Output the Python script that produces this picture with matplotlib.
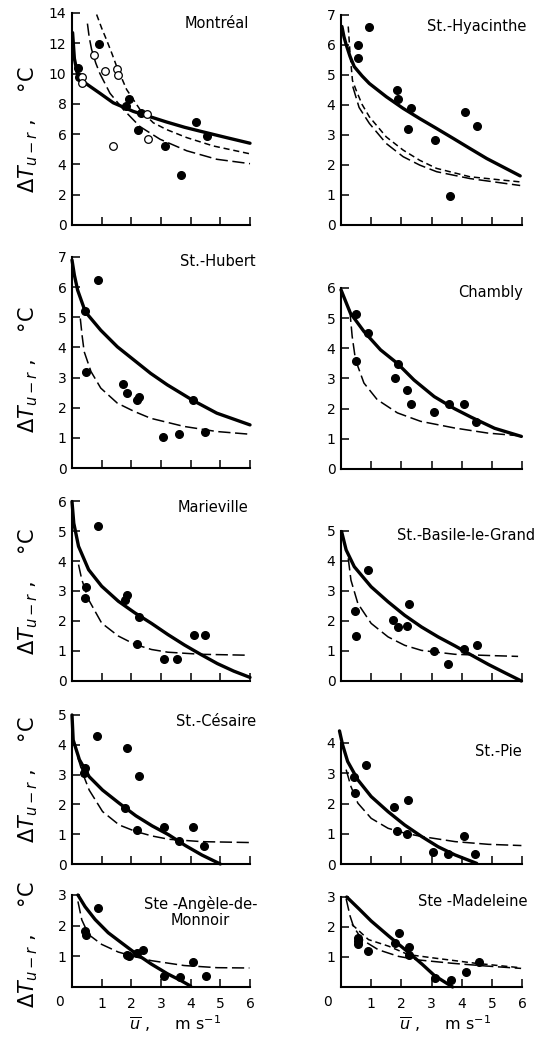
import matplotlib
matplotlib.use("Agg")
import matplotlib.pyplot as plt

W, H = 538, 1040

# ---- data: (u, dT) pairs ----
montreal_filled = [(0.21, 10.4), (0.24, 9.8), (0.91, 11.95), (1.82, 7.85), (1.93, 8.3), (2.21, 6.25),
                   (2.31, 7.4), (3.12, 5.25), (3.67, 3.3), (4.18, 6.8), (4.54, 5.85)]
montreal_open = [(0.34, 9.8), (0.35, 9.4), (0.75, 11.2), (1.12, 10.15), (1.39, 5.2), (1.52, 10.3),
                 (1.56, 9.9), (2.52, 7.3), (2.55, 5.65)]
montreal_solid = [(0.02, 12.7), (0.08, 11.0), (0.18, 10.0), (0.3, 9.6), (0.5, 9.3), (0.94, 8.7), (1.39, 8.07),
                  (2.07, 7.5), (2.63, 7.15), (3.19, 6.8), (3.8, 6.45), (4.31, 6.2), (5.21, 5.77), (6.0, 5.4)]
montreal_short = [(0.83, 13.9), (1.0, 13.0), (1.17, 12.2), (1.35, 11.3), (1.5, 10.5), (1.84, 8.95), (2.29, 7.63),
                  (2.74, 6.75), (3.19, 6.3), (3.87, 5.77), (4.76, 5.22), (6.0, 4.7)]
montreal_long = [(0.52, 13.3), (0.58, 12.4), (0.66, 11.6), (0.8, 10.7), (0.94, 10.0), (1.28, 8.7), (1.73, 7.63),
                 (2.29, 6.5), (2.97, 5.66), (3.87, 4.9), (4.88, 4.34), (6.0, 4.05)]

hyacinthe_filled = [(0.56, 6.0), (0.56, 5.56), (0.92, 6.6), (1.86, 4.48), (1.89, 4.18), (2.22, 3.18),
                    (2.32, 3.9), (3.1, 2.83), (3.61, 0.94), (4.11, 3.76), (4.5, 3.28)]
hyacinthe_solid = [(0.03, 6.6), (0.1, 6.25), (0.17, 6.0), (0.3, 5.6), (0.44, 5.26), (0.7, 4.95), (0.94, 4.7),
                   (1.5, 4.26), (2.06, 3.87), (2.61, 3.53), (3.17, 3.2), (3.72, 2.87), (4.28, 2.53),
                   (4.83, 2.2), (5.94, 1.62)]
hyacinthe_short = [(0.24, 6.6), (0.3, 5.7), (0.38, 4.8), (0.5, 4.48), (0.7, 4.0), (0.94, 3.59), (1.5, 2.92),
                   (2.06, 2.48), (2.61, 2.14), (3.17, 1.87), (4.28, 1.59), (5.94, 1.42)]
hyacinthe_long = [(0.39, 4.6), (0.6, 3.9), (0.94, 3.37), (1.5, 2.7), (2.06, 2.26), (2.61, 1.98),
                  (3.17, 1.76), (4.28, 1.53), (5.94, 1.3)]

hubert_filled = [(0.45, 5.2), (0.47, 3.2), (0.88, 6.25), (1.72, 2.78), (1.87, 2.5), (2.18, 2.26),
                 (2.26, 2.35), (3.07, 1.03), (3.62, 1.13), (4.08, 2.24), (4.48, 1.21)]
hubert_solid = [(0.0, 6.9), (0.08, 6.4), (0.19, 5.9), (0.45, 5.18), (0.97, 4.57), (1.53, 4.02), (2.09, 3.58),
                (2.65, 3.14), (3.21, 2.76), (4.08, 2.24), (4.88, 1.82), (6.0, 1.43)]
hubert_long = [(0.28, 4.96), (0.34, 4.4), (0.41, 3.86), (0.64, 3.2), (0.97, 2.65), (1.53, 2.15), (2.09, 1.88),
               (2.65, 1.65), (3.77, 1.38), (4.88, 1.21), (6.0, 1.12)]

chambly_filled = [(0.51, 5.14), (0.51, 3.59), (0.89, 4.51), (1.78, 3.01), (1.9, 3.49), (2.18, 2.63),
                  (2.33, 2.17), (3.07, 1.88), (3.59, 2.17), (4.07, 2.17), (4.48, 1.56)]
chambly_solid = [(0.0, 5.94), (0.31, 5.17), (0.76, 4.56), (1.31, 3.95), (1.87, 3.5), (2.42, 2.95), (3.09, 2.4),
                 (3.76, 2.0), (4.31, 1.72), (5.09, 1.35), (5.98, 1.08)]
chambly_long = [(0.29, 5.28), (0.37, 4.4), (0.48, 3.62), (0.76, 2.85), (1.2, 2.3), (1.87, 1.86), (2.64, 1.58),
                (3.76, 1.36), (4.87, 1.19), (5.92, 1.1)]

marieville_filled = [(0.45, 2.77), (0.48, 3.13), (0.86, 5.18), (1.78, 2.71), (1.87, 2.88), (2.2, 1.24),
                     (2.26, 2.15), (3.09, 0.72), (3.55, 0.72), (4.1, 1.53), (4.49, 1.53)]
marieville_solid = [(0.0, 5.98), (0.06, 5.26), (0.22, 4.49), (0.56, 3.71), (1.0, 3.16), (1.56, 2.66),
                    (2.12, 2.27), (2.68, 1.92), (3.23, 1.55), (3.79, 1.2), (4.35, 0.88), (4.9, 0.58),
                    (5.45, 0.33), (6.0, 0.12)]
marieville_long = [(0.22, 3.88), (0.33, 3.38), (0.56, 2.71), (1.0, 1.93), (1.56, 1.5), (2.12, 1.22),
                   (2.68, 1.05), (3.23, 0.96), (4.35, 0.89), (5.91, 0.86)]

basile_filled = [(0.48, 2.33), (0.5, 1.5), (0.91, 3.7), (1.72, 2.05), (1.89, 1.8), (2.18, 1.85), (2.24, 2.56),
                 (3.07, 0.99), (3.56, 0.56), (4.08, 1.08), (4.5, 1.21)]
basile_solid = [(0.02, 4.98), (0.17, 4.37), (0.44, 3.81), (1.0, 3.14), (1.56, 2.64), (2.11, 2.19),
                (2.67, 1.8), (3.22, 1.47), (3.78, 1.17), (4.33, 0.86), (4.89, 0.55), (5.44, 0.27), (5.98, 0.0)]
basile_long = [(0.24, 4.09), (0.33, 3.36), (0.56, 2.58), (1.0, 1.92), (1.56, 1.47), (2.11, 1.19),
               (2.67, 1.02), (3.78, 0.89), (4.89, 0.85), (5.87, 0.82)]

cesaire_filled = [(0.42, 3.04), (0.44, 3.23), (0.85, 4.31), (1.78, 1.87), (1.87, 3.9), (2.2, 1.14),
                  (2.26, 2.96), (3.1, 1.25), (3.6, 0.78), (4.08, 1.25), (4.46, 0.6)]
cesaire_solid = [(0.0, 5.0), (0.04, 4.16), (0.25, 3.5), (0.58, 2.93), (1.03, 2.48), (1.59, 2.04), (2.15, 1.62),
                 (2.7, 1.28), (3.26, 0.98), (3.82, 0.62), (4.38, 0.3), (5.0, 0.0)]
cesaire_long = [(0.19, 3.6), (0.36, 3.04), (0.58, 2.48), (1.03, 1.76), (1.59, 1.31), (2.15, 1.09),
                (2.7, 0.94), (3.26, 0.83), (4.38, 0.75), (6.0, 0.72)]

pie_filled = [(0.44, 2.87), (0.47, 2.34), (0.83, 3.28), (1.76, 1.88), (1.84, 1.1), (2.18, 0.99), (2.23, 2.1),
              (3.06, 0.41), (3.56, 0.32), (4.07, 0.91), (4.44, 0.32)]
pie_solid = [(-0.05, 4.4), (0.05, 3.95), (0.22, 3.39), (0.56, 2.78), (1.0, 2.23), (1.56, 1.73), (2.11, 1.29),
             (2.67, 0.91), (3.22, 0.57), (3.78, 0.3), (4.5, 0.02)]
pie_long = [(0.17, 3.12), (0.33, 2.56), (0.56, 2.01), (1.0, 1.51), (1.56, 1.18), (2.11, 1.02), (2.67, 0.91),
            (3.78, 0.74), (4.89, 0.65), (5.98, 0.61)]

angele_filled = [(0.44, 1.82), (0.47, 1.68), (0.86, 2.59), (1.87, 1.04), (1.92, 1.0), (2.2, 1.12),
                 (2.39, 1.2), (3.11, 0.37), (3.63, 0.34), (4.09, 0.8), (4.52, 0.35)]
angele_solid = [(0.2, 3.0), (0.44, 2.62), (0.78, 2.2), (1.22, 1.77), (1.67, 1.44), (2.11, 1.12), (2.67, 0.75),
                (3.22, 0.43), (3.67, 0.21), (4.0, 0.03)]
angele_long = [(0.2, 2.79), (0.33, 2.19), (0.56, 1.71), (1.0, 1.39), (1.56, 1.14), (2.11, 0.99), (2.67, 0.86),
               (3.78, 0.7), (4.89, 0.63), (5.98, 0.62)]

madeleine_filled = [(0.56, 1.64), (0.58, 1.53), (0.58, 1.42), (0.89, 1.19), (1.8, 1.47), (1.92, 1.79),
                    (2.24, 1.33), (2.24, 1.08), (3.11, 0.29), (3.63, 0.23), (4.13, 0.49), (4.56, 0.83)]
madeleine_solid = [(0.19, 3.0), (0.6, 2.6), (1.0, 2.2), (1.58, 1.7), (2.24, 1.15), (2.7, 0.75), (3.1, 0.38),
                   (3.7, 0.0)]
madeleine_short = [(0.36, 2.09), (0.91, 1.58), (1.58, 1.36), (2.23, 1.08), (3.13, 0.96), (4.47, 0.79),
                   (5.97, 0.64)]
madeleine_long = [(0.17, 2.94), (0.3, 2.37), (0.41, 2.03), (0.69, 1.58), (1.24, 1.24), (1.91, 1.02),
                  (2.58, 0.9), (3.69, 0.79), (4.8, 0.7), (5.97, 0.62)]

# ---- panel layout (pixel boxes of the axes) ----
LEFT_COL = (72, 250)
RIGHT_COL = (341, 522)

panels = [
    # name, column, top px, bottom px, ymax, ystep, filled, open, solid, short dash, long dash, title xy, ylabel y
    ("Montréal", LEFT_COL, 13, 225, 14, 2, montreal_filled, montreal_open, montreal_solid,
     montreal_short, montreal_long, (249, 24), 130),
    ("St.-Hyacinthe", RIGHT_COL, 14.5, 224.5, 7, 1, hyacinthe_filled, None, hyacinthe_solid,
     hyacinthe_short, hyacinthe_long, (526, 26), None),
    ("St.-Hubert", LEFT_COL, 257, 468, 7, 1, hubert_filled, None, hubert_solid, None, hubert_long,
     (256, 262), 370),
    ("Chambly", RIGHT_COL, 288, 469, 6, 1, chambly_filled, None, chambly_solid, None, chambly_long,
     (523, 292), None),
    ("Marieville", LEFT_COL, 501, 681, 6, 1, marieville_filled, None, marieville_solid, None,
     marieville_long, (248, 507), 592),
    ("St.-Basile-le-Grand", RIGHT_COL, 531, 681, 5, 1, basile_filled, None, basile_solid, None,
     basile_long, (535, 535), None),
    ("St.-Césaire", LEFT_COL, 715, 864, 5, 1, cesaire_filled, None, cesaire_solid, None, cesaire_long,
     (256, 721), 780),
    ("St.-Pie", RIGHT_COL, 743, 864, 4, 1, pie_filled, None, pie_solid, None, pie_long, (522, 752), None),
    ("Ste -Angèle-de-\nMonnoir", LEFT_COL, 895, 987, 3, 1, angele_filled, None, angele_solid, None,
     angele_long, (257, 912), 945),
    ("Ste -Madeleine", RIGHT_COL, 897, 987, 3, 1, madeleine_filled, None, madeleine_solid,
     madeleine_short, madeleine_long, (528, 901), None),
]

fig = plt.figure(figsize=(W / 100, H / 100), dpi=100)


def px_axes(left, right, top, bottom):
    return fig.add_axes([left / W, 1 - bottom / H, (right - left) / W, (bottom - top) / H])


def fig_xy(x, y):
    return x / W, 1 - y / H


def unzip(pairs):
    return [p[0] for p in pairs], [p[1] for p in pairs]


for i, (name, col, top, bottom, ymax, ystep, filled, opened, solid, short, long_, title_xy, ylab_y) in enumerate(panels):
    ax = px_axes(col[0], col[1], top, bottom)
    bottom_row = i >= 8

    if long_ is not None:
        x, y = unzip(long_)
        ax.plot(x, y, color="black", lw=1.1, dashes=(8, 3), clip_on=False)
    if short is not None:
        x, y = unzip(short)
        ax.plot(x, y, color="black", lw=1.1, dashes=(4, 2.5), clip_on=False)
    x, y = unzip(solid)
    ax.plot(x, y, color="black", lw=2.4, solid_capstyle="round", solid_joinstyle="round", clip_on=False)
    x, y = unzip(filled)
    ax.plot(x, y, "o", color="black", ms=5.5, clip_on=False, zorder=4)
    if opened is not None:
        x, y = unzip(opened)
        ax.plot(x, y, "o", mfc="white", mec="black", mew=0.9, ms=5.5, clip_on=False, zorder=4)

    ax.set_xlim(0, 6)
    ax.set_ylim(0, ymax)
    for side in ("top", "right"):
        ax.spines[side].set_visible(False)
    for side in ("left", "bottom"):
        ax.spines[side].set_linewidth(1.5)

    ax.set_xticks(range(1, 7))
    yt = list(range(0, ymax + 1, ystep))
    ax.set_yticks(yt)
    ylabels = [str(v) for v in yt]
    if bottom_row:
        ylabels[0] = ""
        ax.set_xticklabels([str(v) for v in range(1, 7)])
    else:
        ax.set_xticklabels([])
    ax.set_yticklabels(ylabels)
    ax.tick_params(direction="in", length=6, width=1.1, labelsize=10, pad=4)
    ax.tick_params(axis="x", pad=7)

    fig.text(*fig_xy(*title_xy), name, ha="right", va="center", fontsize=10.5,
             multialignment="center", linespacing=1.1)

    if ylab_y is not None:
        fig.text(*fig_xy(28, ylab_y), r"$\Delta T_{u-r}$ ,    °C", rotation=90,
                 ha="center", va="center", fontsize=15)

    if bottom_row:
        fig.text(*fig_xy(col[0] - 13, 1002), "0", ha="center", va="center", fontsize=10)
        center = (col[0] + col[1]) / 2 + 14
        fig.text(*fig_xy(center, 1030), r"$\overline{u}$ ,     m s$^{-1}$",
                 ha="center", va="baseline", fontsize=11.5)

fig.savefig("out.png", dpi=100)
